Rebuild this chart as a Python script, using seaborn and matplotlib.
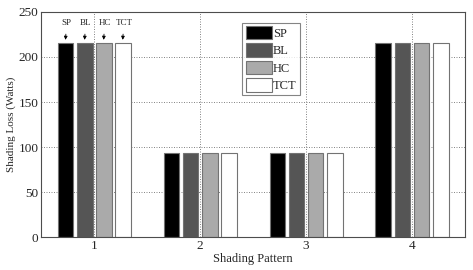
import pandas as pd
import matplotlib
matplotlib.use('Agg')
import matplotlib.pyplot as plt
import seaborn as sns

# Data
patterns = ['1', '2', '3', '4']
methods = ['SP', 'BL', 'HC', 'TCT']
sp_loss = [216, 94, 94, 216]
bl_loss = [216, 94, 94, 216]
hc_loss = [216, 94, 94, 216]
tct_loss = [216, 94, 94, 216]

df = pd.DataFrame({
    'pattern': patterns * 4,
    'method': [m for m in methods for _ in patterns],
    'loss': sp_loss + bl_loss + hc_loss + tct_loss,
})

sns.set_style('white')
plt.rcParams['font.family'] = ['Liberation Serif', 'DejaVu Serif']

fig = plt.figure(figsize=(4.73, 2.70), dpi=100)
ax = fig.add_axes([0.087, 0.121, 0.896, 0.835])

palette = {'SP': '#000000', 'BL': '#555555', 'HC': '#aaaaaa', 'TCT': '#ffffff'}
sns.barplot(data=df, x='pattern', y='loss', hue='method', hue_order=methods,
            palette=palette, width=0.72, gap=0.17, edgecolor='0.45',
            linewidth=0.8, saturation=1, ax=ax, legend=True)

ax.set_ylim(0, 250)
ax.set_xlim(-0.5, 3.5)
ax.set_yticks([0, 50, 100, 150, 200, 250])
ax.grid(True, linestyle=(0, (1.2, 1.8)), color='0.45', linewidth=0.6)
ax.set_axisbelow(True)
for s in ax.spines.values():
    s.set_color('0.3')
    s.set_linewidth(0.8)
ax.tick_params(labelsize=9.5, length=2, direction='in', pad=2)
ax.set_xlabel('Shading Pattern', fontsize=9, labelpad=1)
ax.set_ylabel('Shading Loss (Watts)', fontsize=8, labelpad=2)

leg = ax.legend(loc='upper left', bbox_to_anchor=(0.475, 0.952), fontsize=9,
                frameon=True, fancybox=False, edgecolor='0.4',
                handlelength=2.1, handleheight=1.3, handletextpad=0.1,
                labelspacing=0.28, borderpad=0.25, borderaxespad=0)
leg.get_frame().set_linewidth(0.8)

# arrow labels over the first group
offsets = [-0.27, -0.09, 0.09, 0.27]
for m, dx in zip(methods, offsets):
    ax.annotate(m, xy=(dx, 219), xytext=(dx + 0.01, 238),
                ha='center', va='center', fontsize=6.5,
                arrowprops=dict(arrowstyle='-|>', color='black', lw=0.6,
                                mutation_scale=5, shrinkA=3, shrinkB=0))

plt.savefig('out.png', dpi=100)
plt.close()
